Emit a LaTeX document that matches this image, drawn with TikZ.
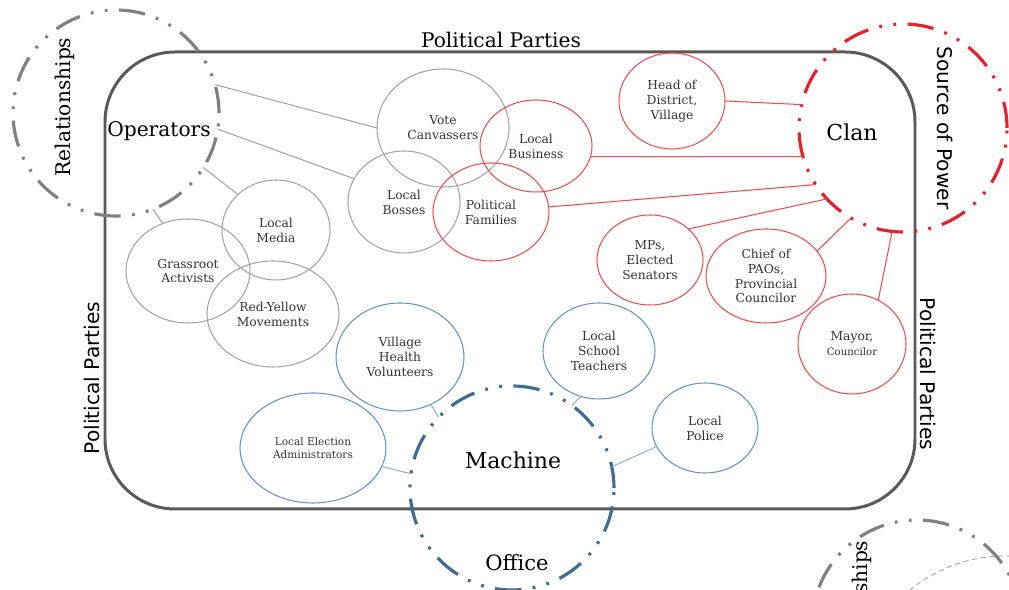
\documentclass[tikz,border=0pt]{standalone}
\usepackage{fontspec}
\setmainfont{DejaVu Serif}
\setsansfont{DejaVu Sans}
\usetikzlibrary{shapes.geometric}
\definecolor{frame}{HTML}{595959}
\definecolor{opgray}{HTML}{A3A3A3}
\definecolor{relgray}{HTML}{808080}
\definecolor{clanred}{HTML}{E8202A}
\definecolor{nodered}{HTML}{F24B4B}
\definecolor{machblue}{HTML}{3D6C97}
\definecolor{nodeblue}{HTML}{5E93CC}
\definecolor{linkblue}{HTML}{8DB4E2}
\definecolor{inktext}{HTML}{333333}

\begin{document}
\begin{tikzpicture}[x=0.02cm, y=-0.02cm,
  dims/.style 2 args={minimum width=#1*0.02cm, minimum height=#2*0.02cm},
  actor/.style={ellipse, draw, line width=0.6pt, inner sep=0pt, outer sep=0pt,
    align=center, text=inktext, font=\fontsize{7}{8.5}\selectfont},
  ring/.style={circle, draw, line width=1.8pt, inner sep=0pt, outer sep=0pt,
    minimum size=#1*0.02cm,
    dash pattern=on 15pt off 6.5pt on 1.6pt off 6.5pt on 1.6pt off 6.5pt},
  link/.style={line width=0.6pt},
  big/.style={font=\fontsize{11.5}{13}\selectfont},
  side/.style={font=\sffamily\fontsize{11.5}{13}\selectfont}]
\useasboundingbox (0,0) rectangle (1009,590);
\clip (0,0) rectangle (1009,590);

% political parties
\draw[frame, line width=1.7pt, rounded corners=1.4cm] (105,52) rectangle (915,509);
\node[big] (ppTop) at (501,40) {Political Parties};
\node[side, rotate=90] (ppLeft) at (92,378) {Political Parties};
\node[side, rotate=-90] (ppRight) at (928,374) {Political Parties};

% operators
\node[ring=206, relgray] (relRing) at (116,113) {};
\node[big, rotate=90] (relText) at (65,107) {Relationships};
\node[big] (operators) at (159,131) {Operators};

\node[actor, draw=opgray, dims={132}{118}] (vote) at (443,128) {Vote\\Canvassers};
\node[actor, draw=opgray, dims={112}{102}] (bosses) at (404,202) {Local\\Bosses};
\node[actor, draw=opgray, dims={108}{100}] (media) at (276,230) {Local\\Media};
\node[actor, draw=opgray, dims={124}{104}] (grass) at (188,271) {Grassroot\\Activists};
\node[actor, draw=opgray, dims={132}{106}] (redyellow) at (273,314) {Red-Yellow\\Movements};

% clan
\node[ring=208, clanred] (clanRing) at (903,128) {};
\node[font=\fontsize{12.5}{14}\selectfont] (clan) at (852,132) {Clan};
\node[side, rotate=-90] (power) at (945,128) {Source of Power};

\node[actor, draw=nodered, dims={112}{92}] (business) at (536,146) {Local\\Business};
\node[actor, draw=nodered, dims={116}{98}] (families) at (491,212) {Political\\Families};
\node[actor, draw=nodered, dims={106}{96}] (head) at (672,101) {Head of\\District,\\Village};
\node[actor, draw=nodered, dims={106}{90}] (mps) at (650,260) {MPs,\\Elected\\Senators};
\node[actor, draw=nodered, dims={120}{94}] (chief) at (766,276) {Chief of\\PAOs,\\Provincial\\Councilor};
\node[actor, draw=nodered, dims={108}{100}] (mayor) at (852,344) {Mayor,\\{\fontsize{5.8}{7}\selectfont Councilor}};

% machine
\node[ring=204, machblue] (machineRing) at (512,488) {};
\node[font=\fontsize{12.5}{14}\selectfont] (machine) at (513,460) {Machine};
\node[font=\fontsize{12}{14}\selectfont] (office) at (517,563) {Office};

\node[actor, draw=nodeblue, dims={128}{108}] (village) at (400,357) {Village\\Health\\Volunteers};
\node[actor, draw=nodeblue, dims={146}{110}, font=\fontsize{6}{7.4}\selectfont] (election) at (313,448) {Local Election\\Administrators};
\node[actor, draw=nodeblue, dims={112}{96}] (school) at (599,351) {Local\\School\\Teachers};
\node[actor, draw=nodeblue, dims={106}{90}] (police) at (705,428) {Local\\Police};

% links
\foreach \a/\b in {relRing.16/vote.180, relRing.-9/bosses.155, relRing.-32/media.137, relRing.-69/grass.118}
  \draw[link, opgray] (\a) -- (\b);
\foreach \a/\b in {head.0/clanRing.167, business.-11/clanRing.196, families.5/clanRing.213,
    mps.39/clanRing.223, chief.26/clanRing.240, mayor.59/clanRing.264}
  \draw[link, nodered] (\a) -- (\b);
\foreach \a/\b in {village.-57/machineRing.136, election.-15/machineRing.172,
    school.248/machineRing.54, police.201/machineRing.12}
  \draw[link, linkblue] (\a) -- (\b);

% next slide, cut off
\node[ring=210, relgray] (relCopy) at (917,625) {};
\node[big, rotate=90] (relCopyText) at (862,610) {Relationships};
\draw[opgray, densely dashed, line width=0.5pt] (1005,706) circle (3cm);
\end{tikzpicture}
\end{document}
